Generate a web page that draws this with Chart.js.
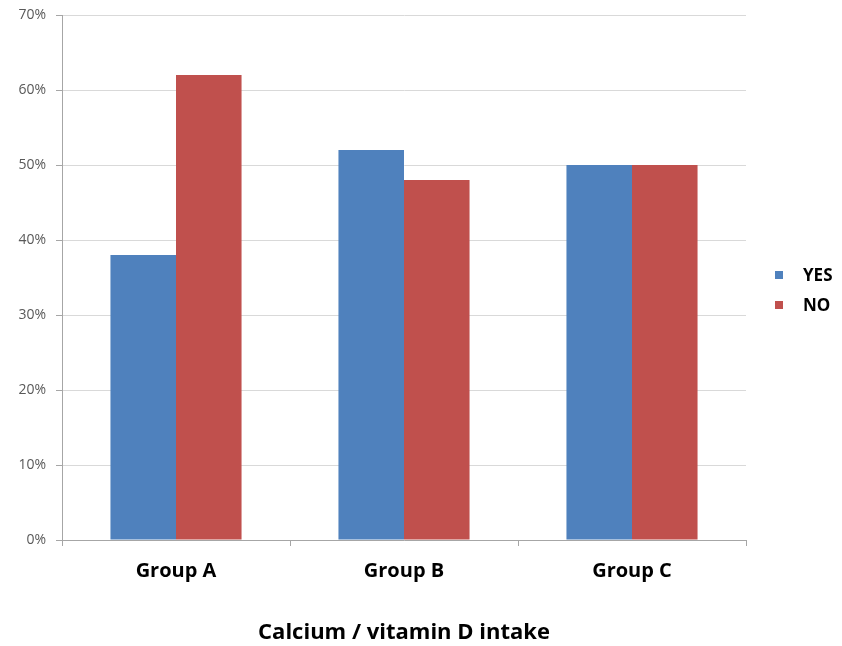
<!DOCTYPE html>
<html>
<head>
<meta charset="utf-8">
<script src="https://cdn.jsdelivr.net/npm/chart.js@4.4.1/dist/chart.umd.min.js"></script>
<style>
html,body{margin:0;padding:0;background:#fff;}
#wrap{width:842px;height:646px;position:relative;}
</style>
</head>
<body>
<div id="wrap"><canvas id="c" width="842" height="646"></canvas></div>
<script>
const categories = ["Group A", "Group B", "Group C"];
const yesValues = [38, 52, 50];
const noValues = [62, 48, 50];
const seriesNames = ["YES", "NO"];
const yTicks = [0, 10, 20, 30, 40, 50, 60, 70];
const axisTitle = "Calcium / vitamin D intake";

const legendPlugin = {
  id: 'sideLegend',
  afterDraw(chart) {
    const ctx = chart.ctx;
    ctx.save();
    chart.data.datasets.forEach((ds, i) => {
      const cy = 275 + i * 30;
      ctx.fillStyle = ds.backgroundColor;
      ctx.fillRect(775, cy - 4, 8, 8);
      ctx.fillStyle = '#000';
      ctx.font = 'bold 17px "Open Sans"';
      ctx.textBaseline = 'middle';
      ctx.textAlign = 'left';
      ctx.fillText(ds.label, 803, cy + 1);
    });
    ctx.restore();
  }
};

new Chart(document.getElementById('c'), {
  type: 'bar',
  data: {
    labels: categories,
    datasets: [
      { label: seriesNames[0], data: yesValues, backgroundColor: '#4F81BD', categoryPercentage: 0.575, barPercentage: 1.0 },
      { label: seriesNames[1], data: noValues, backgroundColor: '#C0504D', categoryPercentage: 0.575, barPercentage: 1.0 }
    ]
  },
  options: {
    responsive: false,
    animation: false,
    layout: { padding: { top: 15, right: 96, bottom: 0, left: 0 } },
    plugins: { legend: { display: false }, tooltip: { enabled: false } },
    scales: {
      x: {
        grid: { display: true, drawOnChartArea: false, drawTicks: true, tickLength: 6, color: '#a6a6a6' },
        border: { display: true, color: '#a6a6a6' },
        ticks: { color: '#000', font: { family: 'Open Sans', size: 20, weight: 'bold' }, padding: 13 },
        title: { display: true, text: axisTitle, color: '#000', font: { family: 'Open Sans', size: 22, weight: 'bold' }, padding: { top: 0, bottom: 0 } },
        afterFit(scale) { scale.height = 106; }
      },
      y: {
        min: 0, max: 70,
        afterBuildTicks(scale) { scale.ticks = yTicks.map(v => ({ value: v })); },
        grid: { color: '#d9d9d9', tickLength: 6, drawTicks: true, tickColor: '#a6a6a6' },
        border: { display: true, color: '#a6a6a6' },
        ticks: { color: '#595959', font: { family: 'Open Sans', size: 14 }, padding: 10, callback: v => v + '%' },
        afterFit(scale) { scale.width = 62; scale.paddingTop = 0; }
      }
    }
  },
  plugins: [legendPlugin]
});
</script>
</body>
</html>
